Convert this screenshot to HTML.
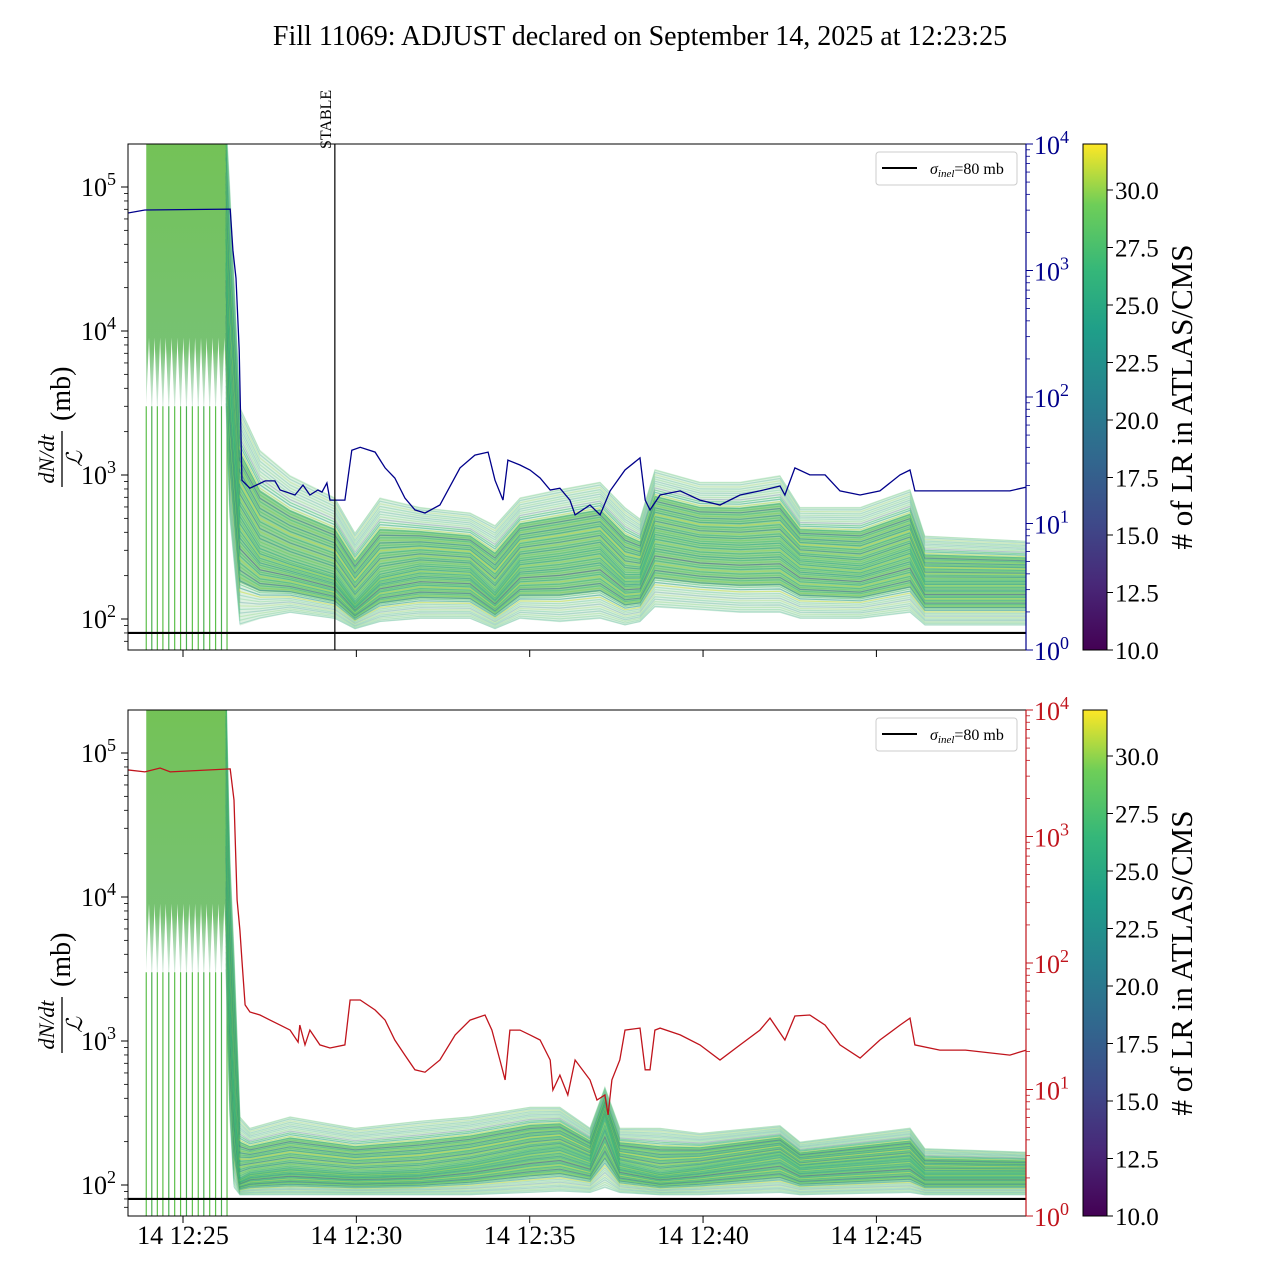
<!DOCTYPE html>
<html><head><meta charset="utf-8"><style>
body{margin:0;background:#fff;}
svg text{font-family:"Liberation Serif","DejaVu Serif",serif;}
</style></head><body>
<svg id="chart" width="1280" height="1280" viewBox="0 0 1280 1280" xmlns="http://www.w3.org/2000/svg">
<defs>
<clipPath id="clipTop"><rect x="128" y="144" width="898" height="506"/></clipPath>
<clipPath id="clipBot"><rect x="128" y="710" width="898" height="506"/></clipPath>
<linearGradient id="viridis" x1="0" y1="1" x2="0" y2="0">
<stop offset="0" stop-color="#440154"/><stop offset="0.13" stop-color="#482878"/><stop offset="0.25" stop-color="#3e4989"/><stop offset="0.38" stop-color="#31688e"/><stop offset="0.5" stop-color="#26828e"/><stop offset="0.63" stop-color="#1f9e89"/><stop offset="0.75" stop-color="#35b779"/><stop offset="0.88" stop-color="#6ece58"/><stop offset="1" stop-color="#fde725"/>
</linearGradient>
<linearGradient id="earlyFade" x1="0" y1="0" x2="0" y2="1">
<stop offset="0" stop-color="#6cbf4e" stop-opacity="0.95"/><stop offset="0.75" stop-color="#5fb85a" stop-opacity="0.85"/><stop offset="1" stop-color="#7cc29a" stop-opacity="0.2"/>
</linearGradient>
</defs>
<text x="640" y="45" font-size="28" text-anchor="middle">Fill 11069: ADJUST declared on September 14, 2025 at 12:23:25</text>
<g id="layer"></g>
</svg>
<script>
// ---- data ----
const bandTimes = [26.24,26.35,26.64,27.22,28.09,29.38,29.96,30.68,31.84,33.28,34.0,34.72,35.87,37.03,37.75,38.18,38.61,39.91,41.07,42.22,42.8,44.53,45.97,46.4,49.32];
const topBandLow = [3000,500,90,100,110,100,85,95,100,100,85,100,95,100,90,95,120,115,110,110,100,100,110,90,90];
const topBandMid = [50000,5000,500,300,250,200,130,200,230,220,150,250,270,300,200,200,380,330,320,330,250,230,300,180,180];
const topBandHigh = [300000,100000,3000,1500,1000,700,400,700,600,550,450,700,800,900,600,500,1100,900,900,1000,600,600,800,380,350];
const botBandTimes = [26.24,26.35,26.47,26.64,26.93,28.09,29.96,31.84,33.28,35.01,35.87,36.74,37.17,37.6,38.76,39.91,42.22,42.8,45.97,46.4,49.32];
const botBandLow = [3000,300,95,85,85,85,85,85,85,88,90,88,95,88,85,85,88,85,88,85,85];
const botBandMid = [50000,2000,400,110,120,130,120,125,140,170,180,150,300,140,120,130,160,130,150,120,120];
const botBandHigh = [300000,20000,4200,300,250,300,250,280,300,350,350,250,480,250,250,230,260,200,250,180,170];
const spikeTimes = [23.94,24.10,24.26,24.42,24.59,24.76,24.93,25.1,25.27,25.44,25.6,25.77,25.94,26.11,26.27];
const earlyTimes = [23.94,24.02,24.10,24.18,24.26,24.34,24.42,24.50,24.59,24.67,24.76,24.84,24.93,25.01,25.1,25.18,25.27,25.35,25.44,25.52,25.6,25.68,25.77,25.85,25.94,26.02,26.11,26.19,26.27];
const earlyFloor = [3000,9000,2500,9000,2500,9000,2500,9000,2500,9000,2500,9000,2500,9000,2500,9000,2500,9000,2500,9000,2500,9000,2500,9000,2500,9000,2500,9000,2500];
const lrValues = [24,27,29,22,26,30,20,28,25,31,23,27.5,21,29.5,26.5,18,28.5,25.5,30.5,24.5,27,16,29,26,22.5,28,25,30,23.5,27.5];
const blueTimes = [23.41,23.90,26.36,26.44,26.53,26.62,26.70,26.93,27.37,27.65,27.80,28.23,28.46,28.66,28.89,29.01,29.15,29.24,29.67,29.87,30.11,30.54,30.83,31.11,31.40,31.69,31.98,32.41,32.99,33.42,33.80,34.00,34.23,34.37,34.72,35.01,35.30,35.59,35.87,36.16,36.31,36.74,37.03,37.32,37.75,38.18,38.33,38.47,38.76,39.34,39.91,40.49,41.07,41.64,42.22,42.36,42.65,43.08,43.52,43.95,44.53,45.10,45.68,45.97,46.11,46.83,48.85,49.32];
const blueValues = [2850,3010,3060,1450,870,235,22,19,21.7,21.7,18.4,16.8,20.1,16.8,18.4,17.7,20.9,15.3,15.3,38,40,36.7,27.5,22.9,15.9,12.8,12.1,14,27.5,34.7,36.7,22,15.3,31.7,29,26.5,22.9,18.4,19,15.3,11.7,14,11.7,18.1,26.5,33,15.3,12.8,16.8,18.1,15.3,14,16.8,18.1,19.8,16.8,27.5,24.2,24.2,18.1,16.8,18.1,24.2,26.5,18.1,18.1,18.1,19.4];
const redTimes = [23.41,23.90,24.34,24.63,26.36,26.47,26.56,26.64,26.70,26.79,26.93,27.22,27.51,27.80,28.09,28.32,28.37,28.52,28.66,28.95,29.24,29.67,29.82,30.11,30.54,30.83,31.11,31.40,31.69,31.98,32.41,32.85,33.28,33.71,33.91,34.14,34.29,34.43,34.72,35.01,35.30,35.59,35.67,35.87,36.10,36.31,36.74,36.94,37.17,37.26,37.37,37.60,37.75,38.18,38.33,38.47,38.61,38.76,39.34,39.91,40.49,41.07,41.64,41.93,42.36,42.65,43.08,43.52,43.95,44.53,45.10,45.68,45.97,46.11,46.83,47.57,48.85,49.32];
const redValues = [3360,3240,3480,3240,3420,1945,315,182,106,46.6,41,38.8,35.4,32.3,29.5,23.7,32.3,22.5,29.5,22.5,21.3,22.5,51,51,42.5,35.4,24.6,18.7,14.3,13.7,17.1,27,35.4,38.8,29.5,17.1,11.9,29.5,29.5,27,24.6,17.1,9.9,13,9.05,17.1,11.9,8.26,9.05,6.3,11.9,17.1,29.5,30.6,14.3,14.3,29.5,30.6,27,22.5,17.1,22.5,29.5,36.7,24.6,38.1,38.8,32.3,22.5,17.7,24.6,32.3,36.7,22.5,20.5,20.5,18.7,20.5];
const yTicksLeft = [100,1000,10000,100000];
const yTickExpLeft = ["2","3","4","5"];
const yTicksRight = [1,10,100,1000,10000];
const yTickExpRight = ["0","1","2","3","4"];
const xTickTimes = [25,30,35,40,45];
const xTickLabels = ["14 12:25","14 12:30","14 12:35","14 12:40","14 12:45"];
const cbTicks = [10,12.5,15,17.5,20,22.5,25,27.5,30];
const stableTime = 29.38;
const sigmaInel = 80;

// ---- scales ----
const NS="http://www.w3.org/2000/svg";
const layer=document.getElementById('layer');
function xS(t){return 183+(t-25)*34.67;}
function yL(v,top){return top+43+(5-Math.log10(v))*144;}
function yR(v,top){return top+506-Math.log10(v)*126.5;}
function mk(tag,attrs,parent){const e=document.createElementNS(NS,tag);for(const k in attrs)e.setAttribute(k,attrs[k]);(parent||layer).appendChild(e);return e;}
const vstops=[[68,1,84],[72,40,120],[62,73,137],[49,104,142],[38,130,142],[31,158,137],[53,183,121],[110,206,88],[253,231,37]];
function viridis(v){let f=(v-10)/22;f=Math.max(0,Math.min(1,f))*8;const i=Math.min(7,Math.floor(f)),r=f-i;const a=vstops[i],b=vstops[i+1];return `rgb(${Math.round(a[0]+(b[0]-a[0])*r)},${Math.round(a[1]+(b[1]-a[1])*r)},${Math.round(a[2]+(b[2]-a[2])*r)})`;}
function lv(low,mid,high,i,f){const ll=Math.log10(low[i]),lm=Math.log10(mid[i]),lh=Math.log10(high[i]);return Math.pow(10,f<0.5?ll+(lm-ll)*f*2:lm+(lh-lm)*(f-0.5)*2);}

function drawPanel(top,times,low,mid,high,lineT,lineV,lineColor,clip,pfx,showXLabels){
  const g=mk('g',{'clip-path':`url(#${clip})`});
  
  
  // early dense region
  const ep=[xS(earlyTimes[0])+','+top].concat(earlyTimes.map((t,i)=>xS(t).toFixed(1)+','+yL(earlyFloor[i],top).toFixed(1))).concat([xS(earlyTimes[earlyTimes.length-1])+','+top]).join(' ');
  const er=mk('polygon',{points:ep,fill:'url(#earlyFade)'},g);
  
  
  spikeTimes.forEach((t,i)=>{
    const l=mk('line',{x1:xS(t),x2:xS(t),y1:yL(3000,top),y2:top+506,stroke:i%3==1?'#4caf50':'#5cbf4a','stroke-width':1.2},g);
    
    
  });
  // band fills
  const fill=(f0,f1,col,op,name)=>{
    const a=times.map((t,i)=>xS(t).toFixed(1)+','+yL(lv(low,mid,high,i,f1),top).toFixed(1));
    const b=times.map((t,i)=>xS(t).toFixed(1)+','+yL(lv(low,mid,high,i,f0),top).toFixed(1)).reverse();
    const p=mk('polygon',{points:a.concat(b).join(' '),fill:col,'fill-opacity':op},g);
    
    
  };
  fill(0,1,'#8fcf9a',0.3,pfx+'-rate-band-outer');
  fill(0.2,0.8,'#5cb95c',0.55,pfx+'-rate-band-inner');
  const N=lrValues.length*2;
  for(let k=0;k<N;k++){
    const f=(k+0.5)/N;
    const pts=times.map((t,i)=>xS(t).toFixed(1)+','+yL(lv(low,mid,high,i,f),top).toFixed(1)).join(' ');
    const p=mk('polyline',{points:pts,fill:'none',stroke:viridis(lrValues[k%lrValues.length]),'stroke-width':1.2,'stroke-opacity':(f<0.15||f>0.85)?0.25:0.5},g);
    
    
  }
  const sl=mk('line',{x1:128,x2:1026,y1:yL(sigmaInel,top),y2:yL(sigmaInel,top),stroke:'#000','stroke-width':2.2},g);
  
  
  const rp=mk('polyline',{points:lineT.map((t,i)=>xS(t).toFixed(1)+','+yR(lineV[i],top).toFixed(1)).join(' '),fill:'none',stroke:lineColor,'stroke-width':1.3},g);
  
  
  const fr=mk('rect',{x:128,y:top,width:898,height:506,fill:'none',stroke:'#000','stroke-width':1});
  
  
  const rs=mk('line',{x1:1026,x2:1026,y1:top,y2:top+506,stroke:lineColor,'stroke-width':1.2});
  
  
  yTicksLeft.forEach((v,i)=>{
    const y=yL(v,top);
    mk('line',{x1:121,x2:128,y1:y,y2:y,stroke:'#000'});
    const t=mk('text',{x:116,y:y+9,'font-size':26,'text-anchor':'end'});
    
    
    t.innerHTML=`10<tspan dy="-11" font-size="18">${yTickExpLeft[i]}</tspan>`;
  });
  for(let d=1;d<=5;d++)for(let m=2;m<10;m++){const v=m*Math.pow(10,d);const y=yL(v,top);if(y>top&&y<top+506)mk('line',{x1:124,x2:128,y1:y,y2:y,stroke:'#000','stroke-width':0.8});}
  yTicksRight.forEach((v,i)=>{
    const y=yR(v,top);
    mk('line',{x1:1026,x2:1033,y1:y,y2:y,stroke:lineColor});
    const t=mk('text',{x:1034,y:y+10,'font-size':26,fill:lineColor});
    
    
    t.innerHTML=`10<tspan dy="-11" font-size="18">${yTickExpRight[i]}</tspan>`;
  });
  for(let d=0;d<4;d++)for(let m=2;m<10;m++){const y=yR(m*Math.pow(10,d),top);mk('line',{x1:1026,x2:1030,y1:y,y2:y,stroke:lineColor,'stroke-width':0.8});}
  xTickTimes.forEach((t,i)=>{
    const x=xS(t);
    mk('line',{x1:x,x2:x,y1:top+506,y2:top+513,stroke:'#000'});
    if(showXLabels){const tl=mk('text',{x:x,y:top+534,'font-size':26,'text-anchor':'middle'});
      
      
      tl.textContent=xTickLabels[i];}
  });
  const yl=mk('g',{transform:`translate(62 ${top+255}) rotate(-90)`});
  
  
  mk('text',{x:-60,y:-8,'font-size':22,'font-style':'italic','text-anchor':'middle'},yl).textContent='dN/dt';
  mk('line',{x1:-88,x2:-32,y1:0,y2:0,stroke:'#000','stroke-width':1.3},yl);
  mk('text',{x:-60,y:20,'font-size':22,'font-style':'italic','text-anchor':'middle'},yl).textContent='ℒ';
  mk('text',{x:-22,y:8,'font-size':28},yl).textContent='(mb)';
  const lg=mk('g',{});
  
  
  mk('rect',{x:876,y:top+8,width:141,height:33,rx:3,fill:'#fff',stroke:'#ccc'},lg);
  mk('line',{x1:882,x2:917,y1:top+24,y2:top+24,stroke:'#000','stroke-width':2},lg);
  const lt=mk('text',{x:930,y:top+30,'font-size':16},lg);
  lt.innerHTML='<tspan font-style="italic">σ</tspan><tspan font-style="italic" font-size="11" dy="3">inel</tspan><tspan dy="-3">=80 mb</tspan>';
  const cb=mk('rect',{x:1083,y:top,width:24,height:506,fill:'url(#viridis)',stroke:'#000','stroke-width':1});
  
  
  cbTicks.forEach(v=>{
    const y=top+506-(v-10)*23;
    mk('line',{x1:1107,x2:1113,y1:y,y2:y,stroke:'#000'});
    const t=mk('text',{x:1115,y:y+9,'font-size':25});
    
    
    t.textContent=v.toFixed(1);
  });
  const ct=mk('text',{x:0,y:0,'font-size':31,'text-anchor':'middle',transform:`translate(1192 ${top+253}) rotate(-90)`});
  
  
  ct.textContent='# of LR in ATLAS/CMS';
}
drawPanel(144,bandTimes,topBandLow,topBandMid,topBandHigh,blueTimes,blueValues,'#00008b','clipTop','top',false);
drawPanel(710,botBandTimes,botBandLow,botBandMid,botBandHigh,redTimes,redValues,'#c0141c','clipBot','bottom',true);
const sx=xS(stableTime);
const stl=mk('line',{x1:sx,x2:sx,y1:144,y2:650,stroke:'#000','stroke-width':1.2});


const stt=mk('text',{x:0,y:0,'font-size':16,transform:`translate(${sx-4} 149) rotate(-90)`});


stt.textContent='STABLE';
</script>
</body></html>
